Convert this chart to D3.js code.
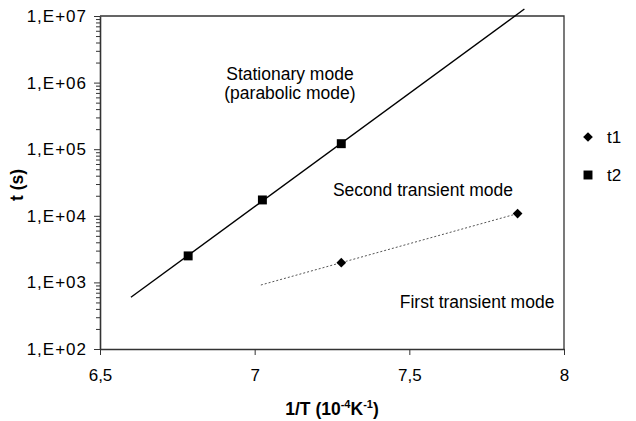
<!DOCTYPE html>
<html>
<head>
<meta charset="utf-8">
<script src="https://cdn.jsdelivr.net/npm/d3@7"></script>
<style>
  body { margin: 0; background: #fff; }
  svg { display: block; font-family: "Liberation Sans", Arial, sans-serif; }
  .axis path, .axis line { stroke: #333; }
  .axis text { font-size: 17px; fill: #000; }
  .yaxis text { letter-spacing: 1px; }
</style>
</head>
<body>
<svg id="chart" width="636" height="421"></svg>
<script>
// values
var t1X = [7.28, 7.85];
var t1Y = [1980, 10800];
var t2X = [6.785, 7.025, 7.28];
var t2Y = [2500, 17300, 121000];

// how far each trendline is drawn (forecast backward / forward)
var t1Range = [7.02, 7.85];
var t2Range = [6.6, 7.872];

var xTicks = [6.5, 7, 7.5, 8];
var xTickLabels = ['6,5', '7', '7,5', '8'];
var yTicks = [1e2, 1e3, 1e4, 1e5, 1e6, 1e7];
var yTickLabels = ['1,E+02', '1,E+03', '1,E+04', '1,E+05', '1,E+06', '1,E+07'];

var notes = [
    {text: 'Stationary mode', x: 7.114, y: 1.09e6},
    {text: '(parabolic mode)', x: 7.114, y: 5.7e5},
    {text: 'Second transient mode', x: 7.544, y: 1.98e4},
    {text: 'First transient mode', x: 7.719, y: 413}
];

var margin = {left: 100, top: 16, right: 72, bottom: 72};
var svg = d3.select('#chart');
var w = 636 - margin.left - margin.right,
    h = 421 - margin.top - margin.bottom;

var x = d3.scaleLinear().domain([6.5, 8]).range([0, w]);
var y = d3.scaleLog().domain([1e2, 1e7]).range([h, 0]);

var g = svg.append('g')
    .attr('transform', 'translate(' + margin.left + ',' + margin.top + ')');

// exponential fit like the spreadsheet trendline: log10(y) = a + b*x
var fitLine = function(xs, ys) {
    var n = xs.length, sx = 0, sy = 0, sxx = 0, sxy = 0;
    for (var i = 0; i < n; i++) {
        var ly = Math.log10(ys[i]);
        sx += xs[i]; sy += ly; sxx += xs[i]*xs[i]; sxy += xs[i]*ly;
    }
    var b = (n*sxy - sx*sy)/(n*sxx - sx*sx);
    var a = (sy - b*sx)/n;
    return function(v) { return Math.pow(10, a + b*v); };
};

// plot frame (top and right sides)
g.append('path')
    .attr('d', 'M0,0H' + w + 'V' + h)
    .style('fill', 'none')
    .style('stroke', '#333')
    .style('stroke-width', 1.3);

// y axis with log minor ticks
var minor = [];
for (var d = 2; d < 7; d++) {
    for (var k = 2; k < 10; k++) minor.push(k*Math.pow(10, d));
}
g.append('g').attr('class', 'axis')
    .call(d3.axisLeft(y).tickValues(minor).tickSize(4).tickFormat(''))
    .call(function(s) { s.select('.domain').remove(); });

var yAxis = g.append('g').attr('class', 'axis yaxis')
    .call(d3.axisLeft(y).tickValues(yTicks).tickSize(6).tickSizeOuter(0)
        .tickPadding(7)
        .tickFormat(function(d, i) { return yTickLabels[i]; }));
yAxis.select('.domain').style('stroke-width', 1.6);

var xAxis = g.append('g').attr('class', 'axis')
    .attr('transform', 'translate(0,' + h + ')')
    .call(d3.axisBottom(x).tickValues(xTicks).tickSize(6).tickSizeOuter(0)
        .tickPadding(14)
        .tickFormat(function(d, i) { return xTickLabels[i]; }));
xAxis.select('.domain').style('stroke-width', 1.6);

// trendlines
var line = d3.line()
    .x(function(d) { return x(d[0]); })
    .y(function(d) { return y(d[1]); });

var f2 = fitLine(t2X, t2Y);
g.append('path')
    .datum(t2Range.map(function(v) { return [v, f2(v)]; }))
    .attr('d', line)
    .style('fill', 'none')
    .style('stroke', '#000')
    .style('stroke-width', 1.4);

var f1 = fitLine(t1X, t1Y);
g.append('path')
    .datum(t1Range.map(function(v) { return [v, f1(v)]; }))
    .attr('d', line)
    .style('fill', 'none')
    .style('stroke', '#555')
    .style('stroke-width', 1)
    .style('stroke-dasharray', '2,2');

// markers
var diamond = d3.symbol().type(d3.symbolDiamond2).size(60);
var square = d3.symbol().type(d3.symbolSquare).size(80);

g.selectAll('.t1').data(t1X)
  .enter().append('path')
    .classed('t1', true)
    .attr('d', diamond)
    .attr('transform', function(d, i) { return 'translate(' + x(d) + ',' + y(t1Y[i]) + ')'; })
    .style('fill', '#000');

g.selectAll('.t2').data(t2X)
  .enter().append('path')
    .classed('t2', true)
    .attr('d', square)
    .attr('transform', function(d, i) { return 'translate(' + x(d) + ',' + y(t2Y[i]) + ')'; })
    .style('fill', '#000');

// annotations inside the plot
g.selectAll('.note').data(notes)
  .enter().append('text')
    .classed('note', true)
    .attr('x', function(d) { return x(d.x); })
    .attr('y', function(d) { return y(d.y); })
    .attr('text-anchor', 'middle')
    .style('font-size', '17.5px')
    .text(function(d) { return d.text; });

// legend
var legend = svg.append('g').attr('transform', 'translate(588,137)');
legend.append('path').attr('d', diamond).style('fill', '#000');
legend.append('path').attr('d', square).attr('transform', 'translate(0,38)').style('fill', '#000');
legend.append('text').attr('x', 19).attr('y', 6).style('font-size', '17px').text('t1');
legend.append('text').attr('x', 19).attr('y', 44).style('font-size', '17px').text('t2');

// axis titles
var xt = svg.append('text')
    .attr('x', margin.left + w/2)
    .attr('y', 415)
    .attr('text-anchor', 'middle')
    .style('font-size', '17.5px')
    .style('font-weight', 'bold');
xt.append('tspan').text('1/T (10');
xt.append('tspan').attr('dy', -7).style('font-size', '11px').text('-4');
xt.append('tspan').attr('dy', 7).text('K');
xt.append('tspan').attr('dy', -7).style('font-size', '11px').text('-1');
xt.append('tspan').attr('dy', 7).text(')');

svg.append('text')
    .attr('transform', 'translate(23,185) rotate(-90)')
    .attr('text-anchor', 'middle')
    .style('font-size', '17.5px')
    .style('font-weight', 'bold')
    .text('t (s)');
</script>
</body>
</html>
